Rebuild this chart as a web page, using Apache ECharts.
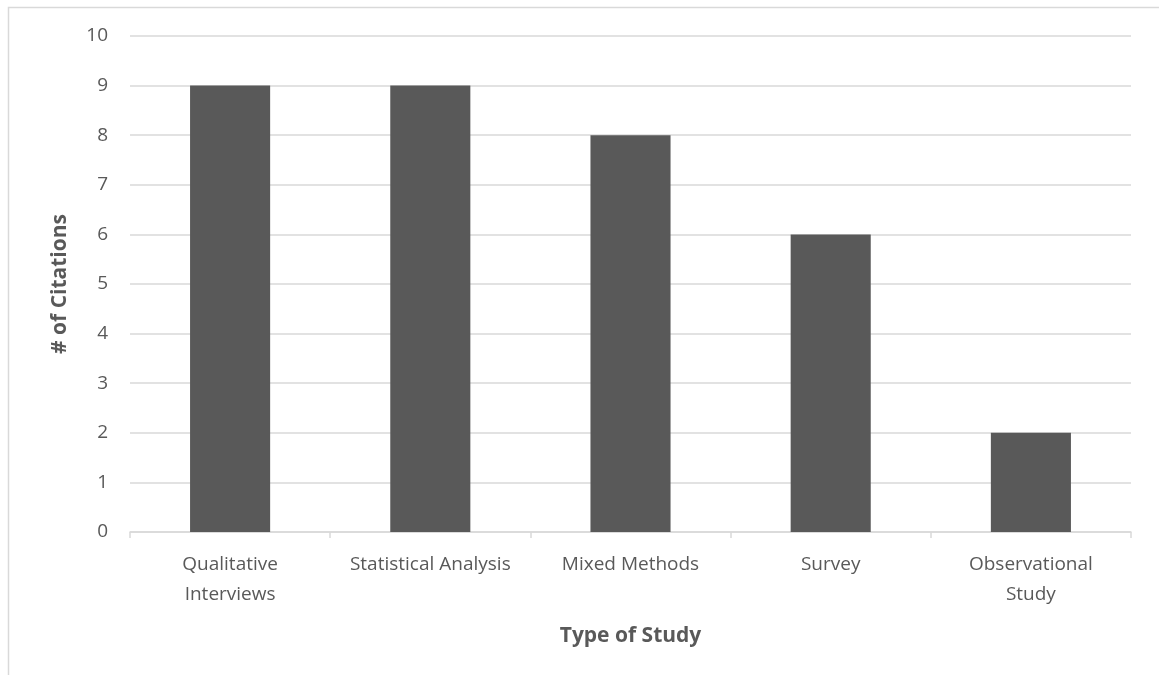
<!DOCTYPE html>
<html>
<head>
<meta charset="utf-8">
<script src="https://cdn.jsdelivr.net/npm/echarts@6/dist/echarts.min.js"></script>
<style>
  html, body { margin: 0; padding: 0; background: #ffffff; }
  #chart { width: 1159px; height: 675px; }
</style>
</head>
<body>
<div id="chart"></div>
<script>
// Study types and how many citations each received
const categories = ['Qualitative\nInterviews', 'Statistical Analysis', 'Mixed Methods', 'Survey', 'Observational\nStudy'];
const citations = [9, 9, 8, 6, 2];

const textColor = '#595959';
const lineColor = '#d9d9d9';
const fontFamily = '"Open Sans", sans-serif';

const chart = echarts.init(document.getElementById('chart'), null, { renderer: 'canvas' });

chart.setOption({
  backgroundColor: '#ffffff',
  animation: false,
  textStyle: { fontFamily: fontFamily },
  graphic: [{
    type: 'rect',
    shape: { x: 8.5, y: 7.5, width: 1300, height: 800 },
    style: { fill: 'none', stroke: lineColor, lineWidth: 1.5 },
    silent: true
  }],
  grid: { left: 130, right: 28, top: 36, bottom: 143 },
  xAxis: {
    type: 'category',
    data: categories,
    name: 'Type of Study',
    nameLocation: 'middle',
    nameGap: 94,
    nameTextStyle: { color: textColor, fontSize: 21, fontWeight: 'bold', fontFamily: fontFamily },
    axisLine: { show: true, lineStyle: { color: lineColor, width: 1.5 } },
    axisTick: { show: true, length: 6, alignWithLabel: false, lineStyle: { color: lineColor, width: 1.5 } },
    axisLabel: { color: textColor, fontSize: 19, lineHeight: 30, margin: 18, interval: 0, fontFamily: fontFamily }
  },
  yAxis: {
    type: 'value',
    min: 0,
    max: 10,
    interval: 1,
    name: '# of Citations',
    nameLocation: 'middle',
    nameGap: 59,
    nameTextStyle: { color: textColor, fontSize: 21, fontWeight: 'bold', fontFamily: fontFamily },
    axisLine: { show: false },
    axisTick: { show: false },
    axisLabel: { color: textColor, fontSize: 19, margin: 22, fontFamily: fontFamily },
    splitLine: { lineStyle: { color: lineColor, width: 1.5 } }
  },
  series: [{
    type: 'bar',
    data: citations,
    barWidth: '40%',
    itemStyle: { color: '#595959' }
  }]
});
</script>
</body>
</html>
